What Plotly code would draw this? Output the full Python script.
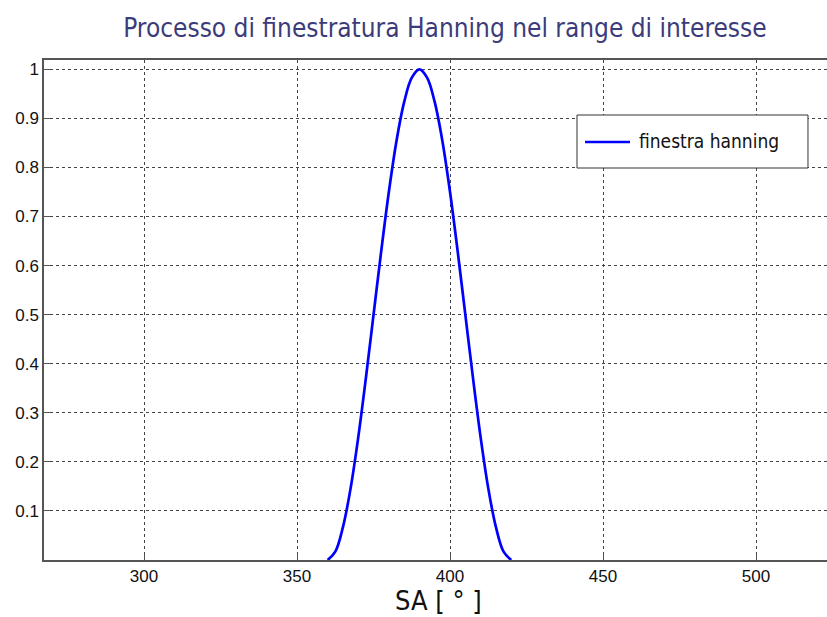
import plotly.graph_objects as go

sa_deg = [360, 362.5, 365, 367.5, 370, 372.5, 375, 377.5, 380, 382.5, 385, 387.5, 390,
          392.5, 395, 397.5, 400, 402.5, 405, 407.5, 410, 412.5, 415, 417.5, 420]
window = [0.0, 0.017, 0.067, 0.146, 0.25, 0.371, 0.5, 0.629, 0.75, 0.854, 0.933, 0.983, 1.0,
          0.983, 0.933, 0.854, 0.75, 0.629, 0.5, 0.371, 0.25, 0.146, 0.067, 0.017, 0.0]
x_ticks = [300, 350, 400, 450, 500]
y_ticks = [0.1, 0.2, 0.3, 0.4, 0.5, 0.6, 0.7, 0.8, 0.9, 1]
y_tick_text = ["0.1", "0.2", "0.3", "0.4", "0.5", "0.6", "0.7", "0.8", "0.9", "1"]
series_name = "finestra hanning"

narrow = "DejaVu Sans Condensed, Liberation Sans Narrow, Arial Narrow, sans-serif"
tickfont = dict(family="Arial, Liberation Sans, sans-serif", size=17, color="#111111")

fig = go.Figure()
fig.add_trace(go.Scatter(x=sa_deg, y=window, mode="lines", name=series_name,
                         line=dict(color="#0000ff", width=2.7, shape="spline"),
                         showlegend=False))

# manual legend box (MATLAB style)
fig.add_shape(type="rect", xref="paper", yref="paper", x0=0.6807, x1=0.9757, y0=0.784, y1=0.89,
              line=dict(color="#333333", width=1), fillcolor="white", layer="above")
fig.add_shape(type="line", xref="paper", yref="paper", x0=0.691, x1=0.7484, y0=0.836, y1=0.836,
              line=dict(color="#0000ff", width=2.5), layer="above")
fig.add_annotation(text=series_name, xref="paper", yref="paper", x=0.7573, y=0.838,
                   xanchor="left", yanchor="middle", showarrow=False,
                   font=dict(family=narrow, size=19, color="#111111"))

# x-axis label
fig.add_annotation(text="SA [ ° ]", xref="paper", yref="paper", x=0.504, y=-0.08,
                   xanchor="center", yanchor="middle", showarrow=False,
                   font=dict(family=narrow, size=27, color="#111111"))

fig.update_layout(
    width=827, height=617,
    margin=dict(l=44, r=0, t=60, b=57),
    paper_bgcolor="white", plot_bgcolor="white",
    title=dict(text="Processo di finestratura Hanning nel range di interesse",
               x=0.538, xanchor="center", y=0.955, yanchor="middle",
               font=dict(family=narrow, size=26, color="#3c3c7a")),
    showlegend=False,
    xaxis=dict(range=[267.3, 523.2], tickvals=x_ticks, tickfont=tickfont,
               showgrid=True, gridcolor="#444444", griddash="dot", gridwidth=1,
               showline=True, linecolor="#555555", linewidth=1.5, mirror=True,
               ticks="inside", ticklen=6, tickcolor="#555555",
               zeroline=False),
    yaxis=dict(range=[0, 1.019], tickvals=y_ticks, ticktext=y_tick_text, tickfont=tickfont,
               showgrid=True, gridcolor="#444444", griddash="dot", gridwidth=1,
               showline=True, linecolor="#555555", linewidth=1.5, mirror=False,
               ticks="inside", ticklen=6, tickcolor="#555555",
               zeroline=False),
)

fig.write_html("out.html", config={"displayModeBar": False},
               post_script="document.body.style.margin='0';document.body.style.overflow='hidden';")
